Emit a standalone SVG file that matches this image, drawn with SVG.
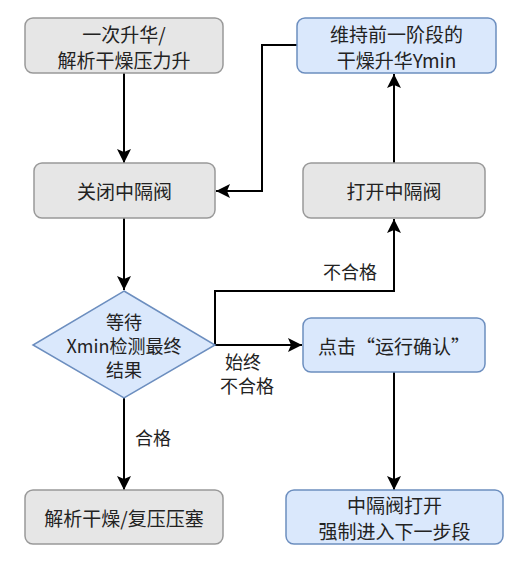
<svg xmlns="http://www.w3.org/2000/svg" width="530" height="567" viewBox="0 0 530 567">
<style>
.grey{fill:#e6e6e6;stroke:#999999;stroke-width:1.5}
.blue{fill:#dae8fc;stroke:#6c8ebf;stroke-width:1.5}
text{font-family:"Noto Sans CJK SC","Noto Sans",sans-serif;font-size:19px;fill:#222;text-anchor:middle;dominant-baseline:central}
.lbl{font-size:18px}
.conn path{fill:none;stroke:#000;stroke-width:2}
</style>
<defs>
<marker id="arr" markerUnits="userSpaceOnUse" markerWidth="16" markerHeight="16" viewBox="0 0 16 16" refX="15" refY="8" orient="auto">
<path d="M1,1 L15,8 L1,15 L4,8 z" fill="#000"/>
</marker>
</defs>
<rect width="530" height="567" fill="#fff"/>
<g class="conn">
<path d="M124,73 V163" marker-end="url(#arr)"/>
<path d="M124,218 V290" marker-end="url(#arr)"/>
<path d="M124,398 V490" marker-end="url(#arr)"/>
<path d="M297,45 H262 V191 H216" marker-end="url(#arr)"/>
<path d="M394,163 V74" marker-end="url(#arr)"/>
<path d="M215,345 V291 H394 V219" marker-end="url(#arr)"/>
<path d="M215,345 H302" marker-end="url(#arr)"/>
<path d="M394,372 V490" marker-end="url(#arr)"/>
<text class="lbl" x="153" y="437">合格</text>
<text class="lbl" x="350" y="271">不合格</text>
<text class="lbl" x="243" y="361">始终</text>
<text class="lbl" x="247" y="385">不合格</text>
</g>
<g id="n1">
<rect class="grey" x="25" y="18" width="198" height="55" rx="8"/>
<text x="124" y="33">一次升华/</text>
<text x="124" y="59">解析干燥压力升</text>
</g>
<g id="n2">
<rect class="grey" x="34" y="163" width="181" height="55" rx="8"/>
<text x="124.5" y="190.5">关闭中隔阀</text>
</g>
<g id="n3">
<polygon class="blue" points="124,291 215,345 124,398 33,345"/>
<text class="lbl" x="124" y="321">等待</text>
<text class="lbl" x="124" y="345">Xmin检测最终</text>
<text class="lbl" x="124" y="369">结果</text>
</g>
<g id="n4">
<rect class="grey" x="25" y="490" width="198" height="54" rx="8"/>
<text x="124" y="517">解析干燥/复压压塞</text>
</g>
<g id="n5">
<rect class="blue" x="297" y="18" width="199" height="55" rx="8"/>
<text x="396.5" y="33">维持前一阶段的</text>
<text x="396.5" y="59">干燥升华Ymin</text>
</g>
<g id="n6">
<rect class="grey" x="303" y="163" width="182" height="55" rx="8"/>
<text x="394" y="190.5">打开中隔阀</text>
</g>
<g id="n7">
<rect class="blue" x="303" y="318" width="182" height="54" rx="8"/>
<text x="394" y="345">点击“运行确认”</text>
</g>
<g id="n8">
<rect class="blue" x="286" y="490" width="217" height="54" rx="8"/>
<text x="394.5" y="504">中隔阀打开</text>
<text x="394.5" y="530">强制进入下一步段</text>
</g>
</svg>
